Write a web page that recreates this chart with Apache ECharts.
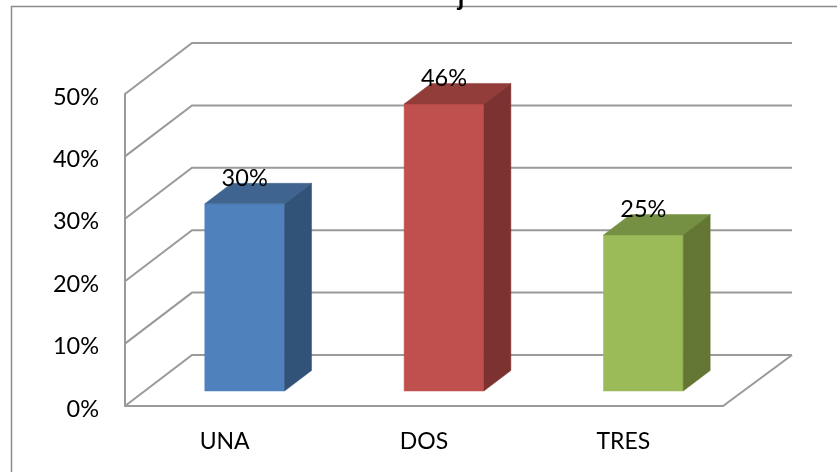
<!DOCTYPE html>
<html>
<head>
<meta charset="utf-8">
<style>html,body{margin:0;padding:0;background:#fff}#chart{width:837px;height:472px}</style>
<script src="https://cdn.jsdelivr.net/npm/echarts@6/dist/echarts.min.js"></script>
</head>
<body>
<div id="chart"></div>
<script>
const categories = ['UNA', 'DOS', 'TRES'];
const values = [30, 46, 25];
const tickValues = [0, 10, 20, 30, 40, 50];
const frontColors = ['#4f81bd', '#c0504d', '#9bbb59'];
const topColors = ['#3f648f', '#933d3b', '#769043'];
const sideColors = ['#325378', '#7c3230', '#647633'];

// Oblique projection of the 3D box: pixel offsets along the depth direction
const WALL_DX = 67, WALL_DY = -51;
const BAR_NEAR_DX = 20, BAR_NEAR_DY = -15;
const BAR_DEPTH_DX = 27, BAR_DEPTH_DY = -20.5;
const GRID_COLOR = '#9a9a9a';

const chart = echarts.init(document.getElementById('chart'), null, {renderer: 'canvas'});

function line(points) {
  return {
    type: 'polyline',
    shape: {points},
    style: {stroke: GRID_COLOR, lineWidth: 2, fill: null}
  };
}

// Back wall, side wall and floor lines plus the tick label, one group per axis tick
function renderWalls(params, api) {
  const value = api.value(0);
  const y = api.coord([0, value])[1];
  const x0 = params.coordSys.x;
  const right = x0 + params.coordSys.width;
  const children = [
    line([[x0, y], [x0 + WALL_DX, y + WALL_DY], [right + WALL_DX + 2, y + WALL_DY]]),
    {
      type: 'text',
      style: {
        text: value + '%',
        x: x0 - 26,
        y: y + 3,
        align: 'right',
        verticalAlign: 'middle',
        fill: '#000',
        font: '23.5px Lato'
      }
    }
  ];
  if (value === 0) {
    children.push(line([[x0, y], [right, y], [right + WALL_DX + 2, y + WALL_DY]]));
  }
  return {type: 'group', children};
}

function poly(points, fill) {
  return {type: 'polygon', shape: {points}, style: {fill, stroke: fill, lineWidth: 0.5}};
}

// One cuboid per category: front, top and side faces plus the value label
function renderBar(params, api) {
  const i = api.value(0);
  const value = api.value(1);
  const top = api.coord([i, value]);
  const base = api.coord([i, 0]);
  const w = api.size([1, 0])[0] * 0.4;
  const xl = top[0] - w / 2 + BAR_NEAR_DX;
  const xr = xl + w;
  const yt = top[1] + BAR_NEAR_DY;
  const yb = base[1] + BAR_NEAR_DY;
  const dx = BAR_DEPTH_DX, dy = BAR_DEPTH_DY;
  return {
    type: 'group',
    children: [
      poly([[xl, yt], [xr, yt], [xr, yb], [xl, yb]], frontColors[i]),
      poly([[xl, yt], [xr, yt], [xr + dx, yt + dy], [xl + dx, yt + dy]], topColors[i]),
      poly([[xr, yt], [xr + dx, yt + dy], [xr + dx, yb + dy], [xr, yb]], sideColors[i]),
      {
        type: 'text',
        style: {
          text: value + '%',
          x: xl + w / 2,
          y: yt - 25.5,
          align: 'center',
          verticalAlign: 'middle',
          fill: '#000',
          font: '23.5px Lato'
        }
      }
    ]
  };
}

chart.setOption({
  animation: false,
  backgroundColor: '#fff',
  graphic: [
    {
      type: 'rect',
      shape: {x: 11.5, y: 6.5, width: 900, height: 600},
      style: {fill: null, stroke: '#8c8c8c', lineWidth: 1.5},
      z: 0
    },
    {
      // Chart heading runs off the top edge; only this descender stays in view
      type: 'text',
      style: {
        text: 'j',
        x: 461,
        y: -15,
        align: 'center',
        verticalAlign: 'top',
        fill: '#000',
        font: 'bold 26px Lato'
      },
      z: 1
    }
  ],
  grid: {left: 125, top: 94, width: 598, height: 312},
  xAxis: {
    type: 'category',
    data: categories,
    axisLine: {show: false},
    axisTick: {show: false},
    axisLabel: {color: '#000', fontFamily: 'Lato', fontSize: 23, margin: 24}
  },
  yAxis: {
    type: 'value',
    min: 0,
    max: 50,
    interval: 10,
    axisLine: {show: true, lineStyle: {color: GRID_COLOR, width: 2}},
    axisTick: {show: false},
    splitLine: {show: false},
    axisLabel: {show: false}
  },
  series: [
    {
      type: 'custom',
      renderItem: renderWalls,
      data: tickValues.map(v => [v]),
      encode: {y: 0},
      silent: true,
      z: 1
    },
    {
      type: 'custom',
      renderItem: renderBar,
      data: values.map((v, i) => [i, v]),
      encode: {x: 0, y: 1},
      z: 2
    }
  ]
});
</script>
</body>
</html>
